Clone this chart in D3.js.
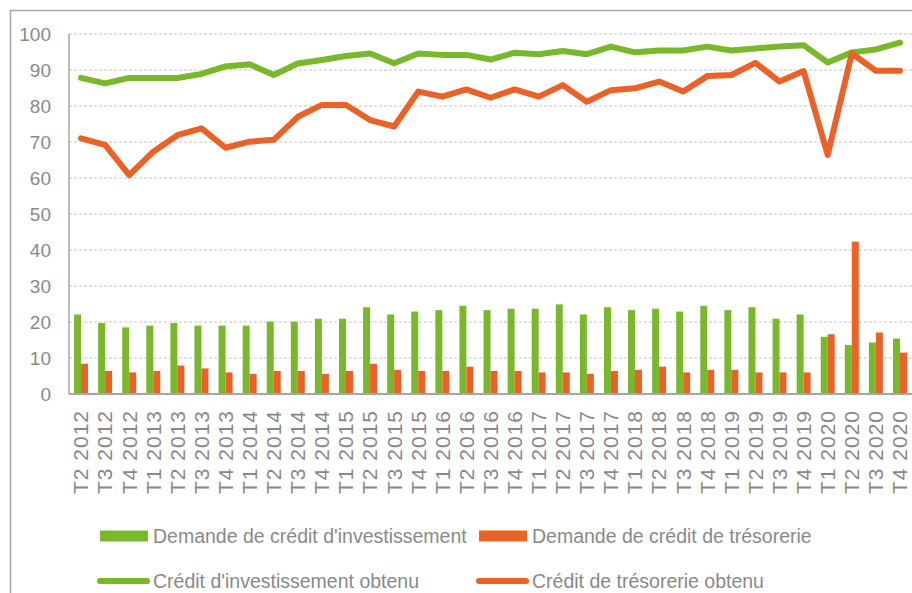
<!DOCTYPE html>
<html>
<head>
<meta charset="utf-8">
<script src="https://d3js.org/d3.v7.min.js"></script>
<style>
  body { margin: 0; background: #fff; }
  svg text { font-family: "Liberation Sans", Arial, sans-serif; fill: #898989; }
</style>
</head>
<body>
<svg id="chart" width="912" height="593"></svg>
<script>
// quarters on the x axis
var labels = ['T2 2012','T3 2012','T4 2012',
    'T1 2013','T2 2013','T3 2013','T4 2013',
    'T1 2014','T2 2014','T3 2014','T4 2014',
    'T1 2015','T2 2015','T3 2015','T4 2015',
    'T1 2016','T2 2016','T3 2016','T4 2016',
    'T1 2017','T2 2017','T3 2017','T4 2017',
    'T1 2018','T2 2018','T3 2018','T4 2018',
    'T1 2019','T2 2019','T3 2019','T4 2019',
    'T1 2020','T2 2020','T3 2020','T4 2020'];

// bars
var demandeInv = [22.1, 19.7, 18.5, 19.0, 19.7, 19.0, 19.0, 19.0, 20.1, 20.1,
    20.9, 20.9, 24.1, 22.1, 22.9, 23.3, 24.5, 23.3, 23.7, 23.7, 24.9, 22.1, 24.1,
    23.3, 23.7, 22.9, 24.5, 23.3, 24.1, 20.9, 22.1, 15.9, 13.6, 14.3, 15.4];
var demandeTres = [8.4, 6.4, 6.0, 6.4, 7.9, 7.1, 6.0, 5.6, 6.4, 6.4,
    5.6, 6.4, 8.4, 6.7, 6.4, 6.4, 7.6, 6.4, 6.4, 6.0, 6.0, 5.6, 6.4,
    6.7, 7.6, 6.0, 6.7, 6.7, 6.0, 6.0, 6.0, 16.6, 42.3, 17.1, 11.5];

// lines
var obtenuInv = [87.8, 86.3, 87.8, 87.8, 87.8, 88.9, 91.0, 91.6, 88.6, 91.8,
    92.8, 93.9, 94.6, 91.9, 94.6, 94.2, 94.2, 92.9, 94.8, 94.4, 95.3, 94.4, 96.5,
    94.9, 95.4, 95.4, 96.5, 95.4, 96.0, 96.5, 96.9, 92.1, 94.9, 95.7, 97.6];
var obtenuTres = [71.0, 69.2, 60.8, 67.3, 71.9, 73.8, 68.4, 70.1, 70.6, 77.0,
    80.3, 80.3, 76.1, 74.3, 84.0, 82.6, 84.6, 82.3, 84.6, 82.6, 85.8, 81.2, 84.4,
    84.9, 86.8, 84.0, 88.3, 88.6, 92.0, 86.8, 89.7, 66.4, 94.6, 89.8, 89.8];

var yTicks = [0, 10, 20, 30, 40, 50, 60, 70, 80, 90, 100];

var green = '#78b82a', orange = '#ea6227', grey = '#a6a6a6';

var svg = d3.select('#chart');
var plotLeft = 69, plotRight = 912, plotTop = 34, plotBottom = 394;

// outer frame
svg.append('path')
    .attr('d', 'M10.5,600 V10.5 H920')
    .attr('fill', 'none')
    .attr('stroke', grey)
    .attr('stroke-width', 1.5);

var x = d3.scaleBand()
    .domain(labels)
    .range([plotLeft, plotRight])
    .paddingInner(0.42)
    .paddingOuter(0.21);

var xSub = d3.scaleBand()
    .domain(['inv', 'tres'])
    .range([0, x.bandwidth()]);

var y = d3.scaleLinear()
    .domain([0, 100])
    .range([plotBottom, plotTop]);

// dashed grid
svg.append('g').selectAll('line')
    .data(yTicks.filter(function(d){ return d > 0; }))
    .enter().append('line')
    .attr('x1', plotLeft).attr('x2', plotRight)
    .attr('y1', function(d){ return y(d); })
    .attr('y2', function(d){ return y(d); })
    .attr('stroke', '#c4c4c4')
    .attr('stroke-dasharray', '3,2');

// y axis labels
var yAxis = d3.axisLeft(y).tickValues(yTicks).tickSize(0).tickPadding(18);
var gy = svg.append('g').attr('transform', 'translate(' + plotLeft + ',0)').call(yAxis);
gy.select('.domain').remove();
gy.selectAll('text')
    .attr('fill', '#898989')
    .style('font-size', '19px');

// bars
var rows = labels.map(function(l, i){
    return { label: l, inv: demandeInv[i], tres: demandeTres[i] };
});
var groups = svg.append('g').selectAll('g')
    .data(rows)
    .enter().append('g')
    .attr('transform', function(d){ return 'translate(' + x(d.label) + ',0)'; });
groups.append('rect')
    .attr('x', xSub('inv'))
    .attr('width', xSub.bandwidth())
    .attr('y', function(d){ return y(d.inv); })
    .attr('height', function(d){ return plotBottom - y(d.inv); })
    .attr('fill', green);
groups.append('rect')
    .attr('x', xSub('tres'))
    .attr('width', xSub.bandwidth())
    .attr('y', function(d){ return y(d.tres); })
    .attr('height', function(d){ return plotBottom - y(d.tres); })
    .attr('fill', orange);

// axis lines
svg.append('line')
    .attr('x1', plotLeft).attr('x2', plotLeft).attr('y1', plotTop).attr('y2', plotBottom)
    .attr('stroke', grey).attr('stroke-width', 1.5);
svg.append('line')
    .attr('x1', plotLeft).attr('x2', plotRight).attr('y1', plotBottom).attr('y2', plotBottom)
    .attr('stroke', grey).attr('stroke-width', 2);

// lines
var line = d3.line()
    .x(function(d, i){ return x(labels[i]) + x.bandwidth() / 2; })
    .y(function(d){ return y(d); });

[[obtenuInv, green], [obtenuTres, orange]].forEach(function(s){
    svg.append('path')
        .datum(s[0])
        .attr('d', line)
        .attr('fill', 'none')
        .attr('stroke', s[1])
        .attr('stroke-width', 6)
        .attr('stroke-linejoin', 'round')
        .attr('stroke-linecap', 'round');
});

// x labels, rotated
var xAxis = d3.axisBottom(x).tickSize(0).tickPadding(0);
var gx = svg.append('g').attr('transform', 'translate(0,' + plotBottom + ')').call(xAxis);
gx.select('.domain').remove();
gx.selectAll('text')
    .attr('fill', '#898989')
    .attr('transform', 'rotate(-90)')
    .attr('text-anchor', 'end')
    .attr('x', -16)
    .attr('y', 0)
    .attr('dy', '0.35em')
    .style('font-size', '21px')
    .style('letter-spacing', '1px');

// legend
var legend = [
    { name: "Demande de crédit d'investissement", color: green, kind: 'rect', x: 100, y: 536 },
    { name: 'Demande de crédit de trésorerie', color: orange, kind: 'rect', x: 479, y: 536 },
    { name: "Crédit d'investissement obtenu", color: green, kind: 'line', x: 100, y: 581 },
    { name: 'Crédit de trésorerie obtenu', color: orange, kind: 'line', x: 479, y: 581 }
];
legend.forEach(function(d){
    if (d.kind === 'rect') {
        svg.append('rect')
            .attr('x', d.x).attr('y', d.y - 5.5)
            .attr('width', 48).attr('height', 11)
            .attr('fill', d.color);
    } else {
        svg.append('line')
            .attr('x1', d.x).attr('x2', d.x + 47)
            .attr('y1', d.y).attr('y2', d.y)
            .attr('stroke', d.color)
            .attr('stroke-width', 6)
            .attr('stroke-linecap', 'round');
    }
    svg.append('text')
        .attr('x', d.x + 53)
        .attr('y', d.y)
        .attr('dy', '0.35em')
        .style('font-size', '19.5px')
        .text(d.name);
});
</script>
</body>
</html>
